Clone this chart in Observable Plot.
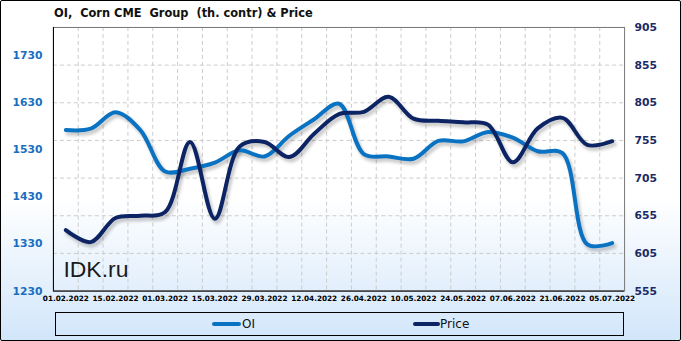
<!DOCTYPE html>
<html><head><meta charset="utf-8">
<script src="https://cdn.jsdelivr.net/npm/d3@7"></script>
<script src="https://cdn.jsdelivr.net/npm/@observablehq/plot@0.6"></script>
<style>
body{margin:0;background:#fff;}
#chart{position:relative;width:681px;height:341px;box-sizing:border-box;border:1px solid #000;border-radius:2px;background:linear-gradient(to bottom,#ffffff 0%,#ffffff 58%,#d2e6fa 100%);overflow:hidden;font-family:"DejaVu Sans",sans-serif;}
#title{position:absolute;left:53px;top:5px;font-weight:bold;font-size:11.4px;white-space:pre;color:#111;line-height:14px;}
#plot{position:absolute;left:-1px;top:-1px;}
#legend{position:absolute;left:54px;top:311px;width:569px;height:24px;border:1px solid #000;box-sizing:border-box;}
.sw{position:absolute;height:4px;border-radius:2px;}
.lt{position:absolute;font-size:12px;line-height:16px;color:#111;}
</style></head>
<body>
<div id="chart">
  <div id="title">OI,  Corn CME  Group  (th. contr) &amp; Price</div>
  <div id="plot"></div>
  <div id="legend"></div>
  <div class="sw" style="left:211px;top:321px;width:29px;background:#0a72c2"></div>
  <div class="lt" style="left:241px;top:315px;">OI</div>
  <div class="sw" style="left:412px;top:321px;width:27px;background:#0c2463"></div>
  <div class="lt" style="left:439px;top:315px;">Price</div>
</div>
<script>
const dates = ["01.02.2022","08.02.2022","15.02.2022","22.02.2022","01.03.2022","08.03.2022","15.03.2022","22.03.2022","29.03.2022","05.04.2022","12.04.2022","19.04.2022","26.04.2022","03.05.2022","10.05.2022","17.05.2022","24.05.2022","31.05.2022","07.06.2022","14.06.2022","21.06.2022","28.06.2022","05.07.2022"];
const oi = [1572,1575,1610,1572,1484,1490,1503,1529,1516,1560,1595,1628,1521,1516,1511,1549,1548,1568,1556,1527,1523,1329,1332];
const price = [636,620,652,655,660,753,651,747,753,733,764,790,793,813,784,781,779,776,726,771,785,749,754];
const oiTicks = [1230,1330,1430,1530,1630,1730];
const priceTicks = [555,605,655,705,755,805,855,905];
const labelEvery = 2;

const toY = d3.scaleLinear([555,905],[1230,1790]);
const rows = dates.map((d,i)=>({i, date:d, oi:oi[i], py:toY(price[i])}));
const bounds = d3.range(1, dates.length).map(k=>k-0.5);
const labelIdx = d3.range(0, dates.length, labelEvery);

const OI_COLOR = "#0a72c2", PRICE_COLOR = "#0c2463";

const chart = Plot.plot({
  width:681, height:305, marginTop:27, marginBottom:14, marginLeft:53, marginRight:56,
  style:{background:"transparent", overflow:"visible", fontFamily:"DejaVu Sans, sans-serif"},
  x:{domain:[-0.5, dates.length-0.5], axis:null},
  y:{domain:[1230,1790], axis:null},
  marks:[
    Plot.ruleX(bounds,{stroke:"#cccccc", strokeDasharray:"4,3"}),
    Plot.ruleY(priceTicks.slice(1,-1).map(toY),{stroke:"#cccccc", strokeDasharray:"4,3"}),
    Plot.frame({stroke:"#777"}),
    Plot.ruleX([-0.5],{stroke:"#000"}),
    Plot.ruleY([1230],{stroke:"#000"}),
    Plot.line(rows,{x:"i", y:"oi", curve:"catmull-rom", stroke:"#000", strokeOpacity:0.2, strokeWidth:5, dx:2, dy:3, imageFilter:"blur(1.5px)"}),
    Plot.line(rows,{x:"i", y:"py", curve:"catmull-rom", stroke:"#000", strokeOpacity:0.2, strokeWidth:5, dx:2, dy:3, imageFilter:"blur(1.5px)"}),
    Plot.line(rows,{x:"i", y:"oi", curve:"catmull-rom", stroke:OI_COLOR, strokeWidth:4}),
    Plot.line(rows,{x:"i", y:"py", curve:"catmull-rom", stroke:PRICE_COLOR, strokeWidth:4}),
    Plot.axisY(oiTicks,{anchor:"left", tickSize:0, tickPadding:11, color:"#1a6ec0", fontSize:10.8, fontWeight:"bold", label:null, tickFormat:v=>String(v)}),
    Plot.axisY(priceTicks.map(toY),{anchor:"right", tickSize:0, tickPadding:10, color:"#1b2a66", fontSize:10.8, fontWeight:"bold", label:null, tickFormat:v=>String(Math.round(toY.invert(v)))}),
    Plot.axisX(labelIdx,{anchor:"bottom", tickSize:0, tickPadding:5, color:"#000", fontSize:7.3, fontWeight:"bold", label:null, tickFormat:i=>dates[i]}),
    Plot.text(["IDK.ru"],{frameAnchor:"bottom-left", dx:10, dy:-14, lineAnchor:"bottom", textAnchor:"start", fontSize:23, fontFamily:"Liberation Sans, Arial, sans-serif", fill:"#1a1a1a"})
  ]
});
document.getElementById("plot").appendChild(chart);
</script>
</body></html>
